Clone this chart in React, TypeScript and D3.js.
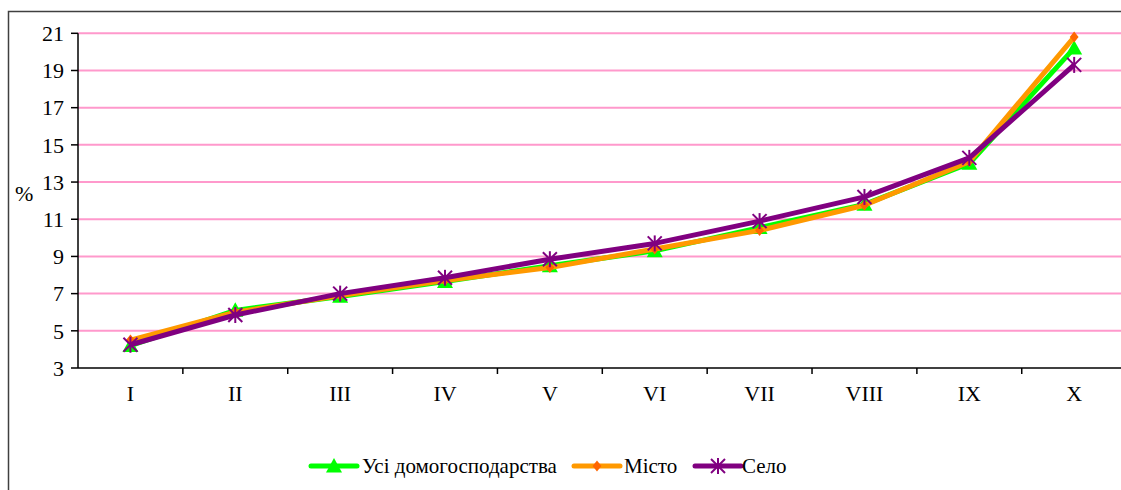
import React from "react";
import * as d3 from "d3";

const categories = ["I", "II", "III", "IV", "V", "VI", "VII", "VIII", "IX", "X"];
const allHouseholds = [4.2, 6.1, 6.85, 7.65, 8.5, 9.3, 10.55, 11.8, 14.0, 20.2];
const city = [4.5, 6.0, 6.9, 7.7, 8.4, 9.4, 10.4, 11.75, 14.1, 20.8];
const village = [4.25, 5.85, 7.0, 7.85, 8.85, 9.7, 10.9, 12.2, 14.3, 19.3];
const yTicks = [3, 5, 7, 9, 11, 13, 15, 17, 19, 21];
const seriesNames = ["Усі домогосподарства", "Місто", "Село"];

const W = 1121;
const H = 490;
const left = 78;
const right = 1126.6;
const top = 33.3;
const bottom = 368;
const font = "Liberation Serif";

const x = d3.scaleBand<string>().domain(categories).range([left, right]);
const y = d3.scaleLinear().domain([3, 21]).range([bottom, top]);
const cx = (c: string) => (x(c) as number) + x.bandwidth() / 2;

const series = [
  { name: seriesNames[0], values: allHouseholds, color: "#00FF00", marker: "tri" },
  { name: seriesNames[1], values: city, color: "#FF9900", marker: "dia" },
  { name: seriesNames[2], values: village, color: "#800080", marker: "star" },
];

const line = d3
  .line<number>()
  .x((_, i) => cx(categories[i]))
  .y((d) => y(d));

function Marker({ type, px, py }: { type: string; px: number; py: number }) {
  if (type === "tri") {
    const s = 8;
    return (
      <path
        d={`M${px},${py - s} L${px + s},${py + s * 0.8} L${px - s},${py + s * 0.8} Z`}
        fill="#00FF00"
      />
    );
  }
  if (type === "dia") {
    const s = 5.5;
    return (
      <path
        d={`M${px},${py - s} L${px + s * 0.8},${py} L${px},${py + s} L${px - s * 0.8},${py} Z`}
        fill="#FF6600"
      />
    );
  }
  const s = 7;
  return (
    <g stroke="#800080" strokeWidth={2}>
      <line x1={px - s} y1={py - s} x2={px + s} y2={py + s} />
      <line x1={px - s} y1={py + s} x2={px + s} y2={py - s} />
      <line x1={px} y1={py - s - 1} x2={px} y2={py + s + 1} />
    </g>
  );
}

export default function App() {
  const legendItems = [
    { lx: 311, tx: 362 },
    { lx: 574, tx: 624 },
    { lx: 695, tx: 742 },
  ];
  const legendY = 466;
  return (
    <div style={{ position: "absolute", left: 0, top: 0 }}>
      <svg width={W} height={H} style={{ display: "block", background: "#fff" }}>
        <rect x={8.5} y={11.5} width={1200} height={600} fill="#fff" stroke="#404040" strokeWidth={1.5} />
        {yTicks.map((t) =>
          t === 3 ? null : (
            <line key={"g" + t} x1={left} x2={W + 10} y1={y(t)} y2={y(t)} stroke="#FF99CC" strokeWidth={2} />
          )
        )}
        <line x1={left} x2={left} y1={top} y2={bottom} stroke="#000" strokeWidth={1.5} />
        <line x1={left} x2={W + 10} y1={bottom} y2={bottom} stroke="#000" strokeWidth={1.5} />
        {yTicks.map((t) => (
          <g key={"yt" + t}>
            <line x1={71} x2={left} y1={y(t)} y2={y(t)} stroke="#000" strokeWidth={1.5} />
            <text x={64} y={y(t)} dy="0.35em" textAnchor="end" fontFamily={font} fontSize={22} fill="#000">
              {t}
            </text>
          </g>
        ))}
        {categories.map((c, i) => (
          <g key={"xt" + c}>
            {i > 0 && (
              <line
                x1={x(c) as number}
                x2={x(c) as number}
                y1={bottom}
                y2={bottom + 6}
                stroke="#000"
                strokeWidth={1.5}
              />
            )}
            <text x={cx(c)} y={401} textAnchor="middle" fontFamily={font} fontSize={22} fill="#000">
              {c}
            </text>
          </g>
        ))}
        <text x={15} y={201} fontFamily={font} fontSize={22} fill="#000">
          %
        </text>
        {series.map((s) => (
          <g key={s.name}>
            <path d={line(s.values) as string} fill="none" stroke={s.color} strokeWidth={5} strokeLinejoin="round" />
            {s.values.map((v, i) => (
              <Marker key={i} type={s.marker} px={cx(categories[i])} py={y(v)} />
            ))}
          </g>
        ))}
        {series.map((s, i) => {
          const it = legendItems[i];
          return (
            <g key={"lg" + s.name}>
              <line
                x1={it.lx}
                x2={it.lx + 46}
                y1={legendY}
                y2={legendY}
                stroke={s.color}
                strokeWidth={5}
                strokeLinecap="round"
              />
              <Marker type={s.marker} px={it.lx + 23} py={legendY} />
              <text x={it.tx} y={legendY} dy="0.35em" fontFamily={font} fontSize={21} fill="#000">
                {s.name}
              </text>
            </g>
          );
        })}
      </svg>
    </div>
  );
}
